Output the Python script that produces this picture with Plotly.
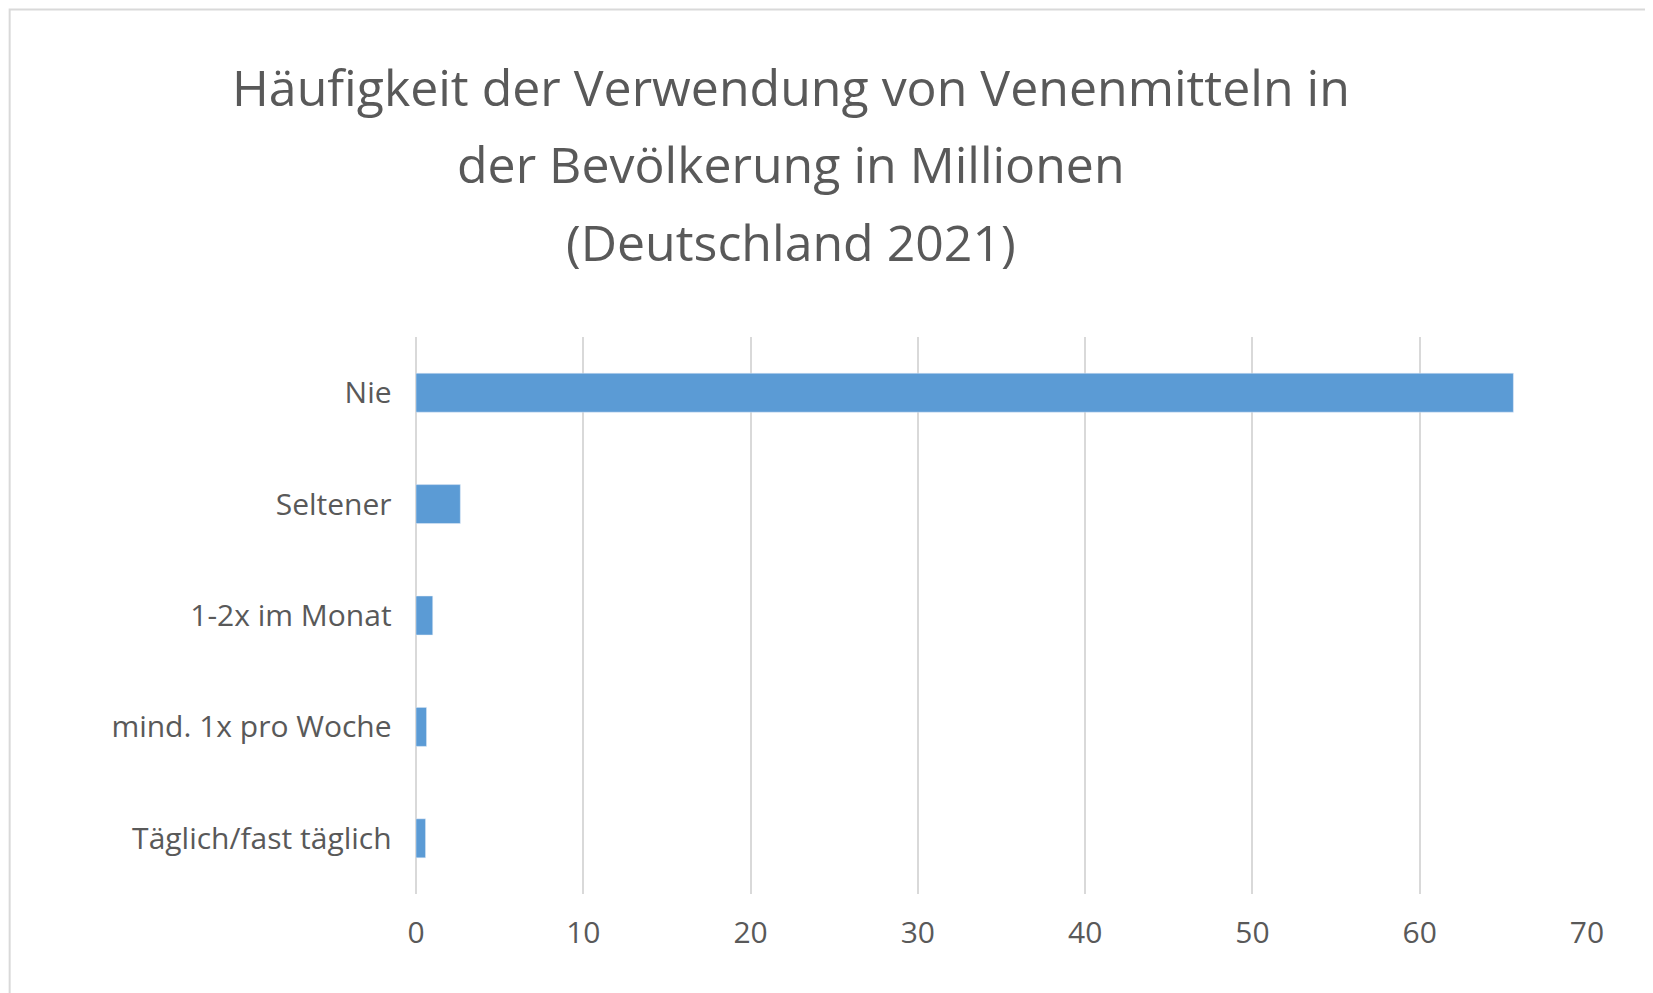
import plotly.graph_objects as go

categories = ["Täglich/fast täglich", "mind. 1x pro Woche", "1-2x im Monat", "Seltener", "Nie"]
values = [0.57, 0.63, 1.0, 2.65, 65.6]
tick_vals = [0, 10, 20, 30, 40, 50, 60, 70]
title_lines = ["Häufigkeit der Verwendung von Venenmitteln in", "der Bevölkerung in Millionen", "(Deutschland 2021)"]
title_y = [1.449, 1.311, 1.171]

fig = go.Figure(go.Bar(x=values, y=categories, orientation="h", marker_color="#5B9BD5"))
fig.update_layout(
    width=1653, height=993,
    paper_bgcolor="white", plot_bgcolor="white",
    margin=dict(l=408, r=74, t=329, b=107),
    bargap=0.65,
    font=dict(family="Open Sans, Lato, sans-serif", color="#595959", size=30),
    xaxis=dict(range=[0, 70], tickvals=tick_vals, showgrid=True, gridcolor="#D9D9D9", gridwidth=2,
               zeroline=True, zerolinecolor="#D9D9D9", zerolinewidth=2, ticks="outside", ticklen=12,
               tickcolor="white"),
    yaxis=dict(ticks="", ticksuffix="   ", showline=False),
    annotations=[dict(text=t, xref="paper", yref="paper", x=0.32, y=y, xanchor="center", yanchor="middle",
                      showarrow=False, font=dict(size=50, color="#595959"))
                 for t, y in zip(title_lines, title_y)],
    shapes=[dict(type="rect", xref="paper", yref="paper", x0=-0.347, x1=1.0615, y0=-0.19, y1=1.588,
                 line=dict(color="#D9D9D9", width=2))],
)
fig.write_html("out.html")
